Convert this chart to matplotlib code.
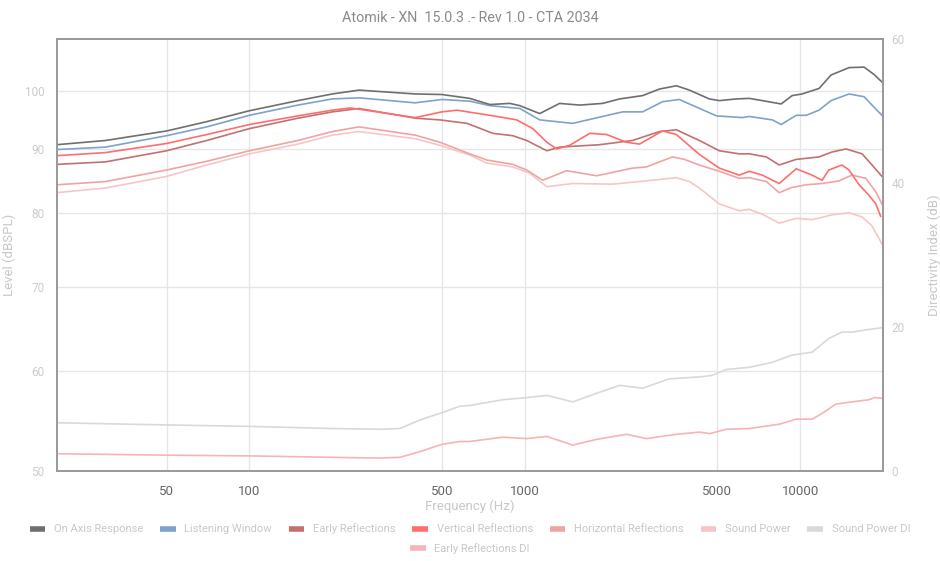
import numpy as np
import matplotlib.pyplot as plt
from matplotlib.lines import Line2D
from matplotlib.ticker import NullLocator

plt.rcParams['font.family'] = ['Roboto', 'DejaVu Sans']

title = 'Atomik - XN  15.0.3 .- Rev 1.0 - CTA 2034'

# On Axis Response
on_f = [20, 30, 50, 70, 100, 150, 200, 250, 400, 500, 631, 747, 883, 959, 1133, 1338, 1582, 1918,
        2209, 2678, 3085, 3553, 3962, 4680, 5090, 5865, 6536, 7287, 8530, 9353, 10160, 11710,
        12950, 15050, 17070, 18550, 19820]
on_db = [90.7, 91.4, 93.0, 94.6, 96.5, 98.3, 99.5, 100.2, 99.5, 99.4, 98.7, 97.6, 97.8, 97.4, 96.0,
         97.8, 97.5, 97.8, 98.6, 99.2, 100.4, 101.0, 100.2, 98.6, 98.3, 98.6, 98.7, 98.3, 97.7,
         99.2, 99.5, 100.5, 103.0, 104.4, 104.5, 103.1, 101.7]

# Listening Window
lw_f = [20, 30, 50, 70, 100, 150, 200, 250, 400, 500, 631, 747, 959, 1133, 1493, 1918, 2265, 2678,
        3162, 3637, 4966, 6170, 6536, 7925, 8530, 9678, 10520, 11710, 12950, 15050, 17070, 18240,
        19820]
lw_db = [89.9, 90.3, 92.2, 93.7, 95.7, 97.5, 98.6, 98.8, 97.9, 98.5, 98.2, 97.4, 96.9, 94.9, 94.3,
         95.5, 96.3, 96.3, 98.1, 98.5, 95.6, 95.3, 95.5, 94.9, 94.1, 95.7, 95.7, 96.6, 98.3, 99.5,
         99.0, 97.5, 95.7]

# Early Reflections
er_f = [20, 30, 50, 70, 100, 150, 200, 250, 400, 492, 617, 766, 905, 1016, 1203, 1338, 1871, 2459,
        3085, 3553, 4305, 5090, 6010, 6536, 7540, 8390, 9678, 11710, 13060, 14680, 16790, 18240,
        19820]
er_db = [87.5, 87.9, 89.7, 91.4, 93.4, 95.2, 96.3, 96.9, 95.2, 94.9, 94.3, 92.6, 92.2, 91.4, 89.7,
         90.3, 90.7, 91.4, 92.9, 93.2, 91.4, 89.7, 89.2, 89.2, 88.7, 87.4, 88.3, 88.7, 89.5, 90.0,
         89.2, 87.4, 85.6]

# Vertical Reflections
vr_f = [20, 30, 50, 70, 100, 150, 200, 232, 352, 400, 500, 567, 792, 935, 1069, 1203, 1306, 1455,
        1722, 1983, 2343, 2611, 3162, 3553, 4305, 5090, 6010, 6536, 7287, 8390, 9678, 11050,
        12020, 12700, 14190, 15050, 16370, 17780, 18840, 19600]
vr_db = [88.9, 89.4, 90.9, 92.4, 94.1, 95.6, 96.6, 97.0, 95.7, 95.3, 96.3, 96.6, 95.5, 94.9, 93.4,
         91.1, 90.0, 90.6, 92.6, 92.4, 91.1, 90.8, 93.0, 92.4, 89.1, 86.9, 85.8, 86.4, 85.8, 84.5,
         86.8, 85.8, 85.0, 86.6, 87.4, 86.6, 84.3, 82.7, 81.4, 79.6]

# Horizontal Reflections
hr_f = [20, 30, 50, 70, 100, 150, 200, 250, 400, 492, 631, 728, 905, 1016, 1162, 1419, 1824, 2459,
        2767, 3438, 3800, 4305, 5090, 6010, 6536, 7540, 8390, 9353, 10520, 12020, 13830, 15410,
        17320, 18840, 19820]
hr_db = [84.3, 84.8, 86.6, 88.0, 89.7, 91.4, 92.9, 93.7, 92.3, 91.1, 89.2, 88.2, 87.5, 86.6, 85.0,
         86.5, 85.7, 86.9, 87.1, 88.7, 88.3, 87.4, 86.4, 85.3, 85.4, 84.8, 83.1, 83.9, 84.3, 84.5,
         84.9, 85.8, 85.3, 83.2, 81.4]

# Sound Power
sp_f = [20, 30, 50, 70, 100, 150, 200, 250, 400, 500, 631, 728, 905, 1042, 1203, 1493, 2084, 2611,
        3553, 3962, 4305, 5090, 6010, 6536, 7287, 8390, 9678, 11050, 13060, 15050, 16790, 18240,
        19820]
sp_db = [83.1, 83.8, 85.6, 87.4, 89.2, 90.8, 92.3, 92.9, 91.7, 90.5, 89.0, 87.7, 87.1, 86.1, 84.0,
         84.5, 84.4, 84.8, 85.4, 84.8, 83.8, 81.4, 80.4, 80.6, 79.9, 78.6, 79.3, 79.1, 79.8, 80.1,
         79.5, 78.2, 75.7]

# Sound Power DI (right axis)
spdi_f = [20, 50, 100, 200, 298, 352, 417, 500, 581, 631, 832, 1016, 1203, 1493, 1824, 2209, 2678,
          3350, 4418, 4800, 5398, 6536, 7925, 9353, 11050, 12700, 14190, 15500, 17320, 19820]
spdi_db = [6.7, 6.4, 6.2, 5.9, 5.8, 5.9, 7.1, 8.1, 9.0, 9.1, 9.9, 10.2, 10.5, 9.6, 10.8, 11.9, 11.5,
           12.8, 13.1, 13.3, 14.1, 14.4, 15.1, 16.1, 16.5, 18.4, 19.3, 19.3, 19.6, 19.9]

# Early Reflections DI (right axis)
erdi_f = [20, 50, 100, 200, 298, 352, 417, 500, 581, 631, 832, 1016, 1203, 1493, 1824, 2343, 2767,
          3553, 4305, 4700, 5398, 6536, 8390, 9678, 11050, 12020, 13490, 15410, 17780, 18700, 19820]
erdi_db = [2.4, 2.2, 2.1, 1.9, 1.8, 1.9, 2.7, 3.7, 4.1, 4.1, 4.7, 4.5, 4.8, 3.6, 4.4, 5.1, 4.5,
           5.1, 5.4, 5.2, 5.8, 5.9, 6.5, 7.2, 7.2, 8.0, 9.3, 9.6, 9.9, 10.2, 10.1]

x_ticks = [50, 100, 500, 1000, 5000, 10000]
y_ticks = [50, 60, 70, 80, 90, 100]
di_ticks = [0, 20, 40, 60]

c_on = '#6f6f6f'
c_lw = '#7ea2cc'
c_er = '#c47070'
c_vr = '#ff6e6e'
c_hr = '#f0a3a3'
c_sp = '#f6c6c6'
c_spdi = '#d9d9d9'
c_erdi = '#f7b4b4'

fig = plt.figure(figsize=(9.4, 5.61), dpi=100)
ax = fig.add_axes([0.0606, 0.1604, 0.8788, 0.7701])
ax2 = ax.twinx()

lw = 1.2
ax.plot(sp_f, sp_db, color=c_sp, lw=lw)
ax.plot(hr_f, hr_db, color=c_hr, lw=lw)
ax.plot(er_f, er_db, color=c_er, lw=lw)
ax.plot(vr_f, vr_db, color=c_vr, lw=lw)
ax.plot(lw_f, lw_db, color=c_lw, lw=lw)
ax.plot(on_f, on_db, color=c_on, lw=lw)
ax2.plot(spdi_f, spdi_db, color=c_spdi, lw=lw)
ax2.plot(erdi_f, erdi_db, color=c_erdi, lw=lw)

ax.set_xscale('log')
ax.set_yscale('log')
ax.set_xlim(20, 20000)
ax.set_ylim(50, 110)
ax.xaxis.set_minor_locator(NullLocator())
ax.yaxis.set_minor_locator(NullLocator())
ax.set_xticks(x_ticks)
ax.set_xticklabels([str(t) for t in x_ticks])
ax.set_yticks(y_ticks)
ax.set_yticklabels([str(t) for t in y_ticks])
ax.grid(True, color='#e6e6e6', lw=1)
ax.set_axisbelow(True)
ax.tick_params(axis='x', length=0, pad=10, labelsize=9.5, labelcolor='#666666')
ax.tick_params(axis='y', length=0, pad=9, labelsize=8.5, labelcolor='#cccccc')

ax2.set_ylim(0, 60)
ax2.set_yticks(di_ticks)
ax2.tick_params(axis='y', length=0, pad=6, labelsize=8.5, labelcolor='#cccccc')

for a in (ax, ax2):
    for s in a.spines.values():
        s.set_color('#999999')
        s.set_linewidth(1.2)

ax.set_xlabel('Frequency (Hz)', color='#c8c8c8', fontsize=9.5, labelpad=1)
ax.set_ylabel('Level (dBSPL)', color='#c8c8c8', fontsize=9.5)
ax.yaxis.set_label_coords(-0.049, 0.5)
ax2.set_ylabel('Directivity Index (dB)', color='#c8c8c8', fontsize=9.5)
ax2.yaxis.set_label_coords(1.054, 0.5)
fig.text(0.5, 0.968, title, ha='center', va='center', color='#8a8a8a', fontsize=10.3)

names1 = ['On Axis Response', 'Listening Window', 'Early Reflections', 'Vertical Reflections',
          'Horizontal Reflections', 'Sound Power', 'Sound Power DI']
cols1 = [c_on, c_lw, c_er, c_vr, c_hr, c_sp, c_spdi]
h1 = [Line2D([], [], color=c, lw=4, solid_capstyle='butt') for c in cols1]
fig.legend(h1, names1, loc='center', bbox_to_anchor=(0.5, 0.057), ncol=7, frameon=False,
           handlelength=1.4, handletextpad=0.8, columnspacing=1.5, fontsize=8,
           labelcolor='#c8c8c8')
h2 = [Line2D([], [], color=c_erdi, lw=4, solid_capstyle='butt')]
fig.legend(h2, ['Early Reflections DI'], loc='center', bbox_to_anchor=(0.5, 0.022), frameon=False,
           handlelength=1.4, handletextpad=0.8, fontsize=8, labelcolor='#c8c8c8')

fig.savefig('out.png', dpi=100)
